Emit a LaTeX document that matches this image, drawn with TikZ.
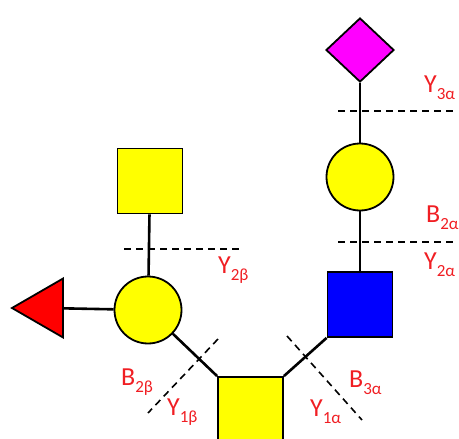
\documentclass[tikz,border=0pt]{standalone}
\usepackage{fontspec}
\setmainfont{Carlito}
\definecolor{glycYellow}{HTML}{FFFF00}
\definecolor{glycBlue}{HTML}{0000FF}
\definecolor{glycMagenta}{HTML}{FF00FF}
\definecolor{glycRed}{HTML}{FF0000}
\definecolor{fragRed}{HTML}{F01E23}
\usepackage{tikz}
\usetikzlibrary{
	positioning,
	shapes.geometric
}
\newcommand{\frag}[2]{#1\raisebox{-0.28em}{\fontsize{17}{17}\selectfont #2}}
\tikzset{
	squareRes/.style={
		draw=black,
		line width=1.8pt,
		rectangle,
		inner sep=0pt,
		minimum size=65pt
	},
	circleRes/.style={
		draw=black,
		line width=1.8pt,
		circle,
		inner sep=0pt,
		minimum size=67pt,
		fill=glycYellow
	},
	diamondRes/.style={
		draw=black,
		line width=1.8pt,
		diamond,
		inner sep=0pt,
		minimum width=68pt,
		minimum height=64pt,
		fill=glycMagenta
	},
	triangleRes/.style={
		draw=black,
		line width=1.8pt,
		regular polygon,
		regular polygon sides=3,
		shape border rotate=90,
		inner sep=0pt,
		minimum size=68pt,
		fill=glycRed
	},
	bond/.style={
		line width=2.6pt,
		black
	},
	cleavage/.style={
		line width=1.6pt,
		dash pattern=on 7pt off 5pt,
		black
	},
	fragment/.style={
		text=fragRed,
		anchor=west,
		inner sep=0pt,
		font=\fontsize{26}{26}\selectfont
	}
}
\begin{document}
\begin{tikzpicture}[x=1pt, y=-1pt]
		\useasboundingbox (0,0) rectangle (459,439);
		\node[squareRes, fill=glycYellow] (core) at (250.5,409.5) {};
		\node[circleRes] (galL) at (148,310) {};
		\node[squareRes, fill=glycYellow] (galNAc) at (150,181) {};
		\node[triangleRes] (fuc) at (46,308) {};
		\node[squareRes, fill=glycBlue] (glcNAc) at (360,304.5) {};
		\node[circleRes] (galR) at (360,177) {};
		\node[diamondRes] (neu) at (360,50) {};
		\draw[bond] (galNAc) -- (galL);
		\draw[bond] (fuc) -- (galL);
		\draw[bond] (galL) -- (core.north west);
		\draw[bond] (core.north east) -- (glcNAc.south west);
		\draw[bond] (glcNAc) -- (galR);
		\draw[bond] (galR) -- (neu);
		\coordinate (c3a) at (338,111);
		\coordinate (c3b) at (455,111);
		\coordinate (c2a) at (338,242);
		\coordinate (c2b) at (455,242);
		\coordinate (c2c) at (124,249);
		\coordinate (c2d) at (242,249);
		\coordinate (c1a) at (218,339);
		\coordinate (c1b) at (148,413);
		\coordinate (c1c) at (287,336);
		\coordinate (c1d) at (362,420);
		\draw[cleavage] (c3a) -- (c3b);
		\draw[cleavage] (c2a) -- (c2b);
		\draw[cleavage] (c2c) -- (c2d);
		\draw[cleavage] (c1a) -- (c1b);
		\draw[cleavage] (c1c) -- (c1d);
		\node[fragment] (y3a) at (424,88) {\frag{Y}{3α}};
		\node[fragment] (b2a) at (426,218) {\frag{B}{2α}};
		\node[fragment] (y2a) at (424,265) {\frag{Y}{2α}};
		\node[fragment] (y2b) at (218,270) {\frag{Y}{2β}};
		\node[fragment] (b2b) at (121,382) {\frag{B}{2β}};
		\node[fragment] (y1b) at (167,412) {\frag{Y}{1β}};
		\node[fragment] (y1a) at (310,412) {\frag{Y}{1α}};
		\node[fragment] (b3a) at (349,383) {\frag{B}{3α}};
	\end{tikzpicture}
\end{document}
